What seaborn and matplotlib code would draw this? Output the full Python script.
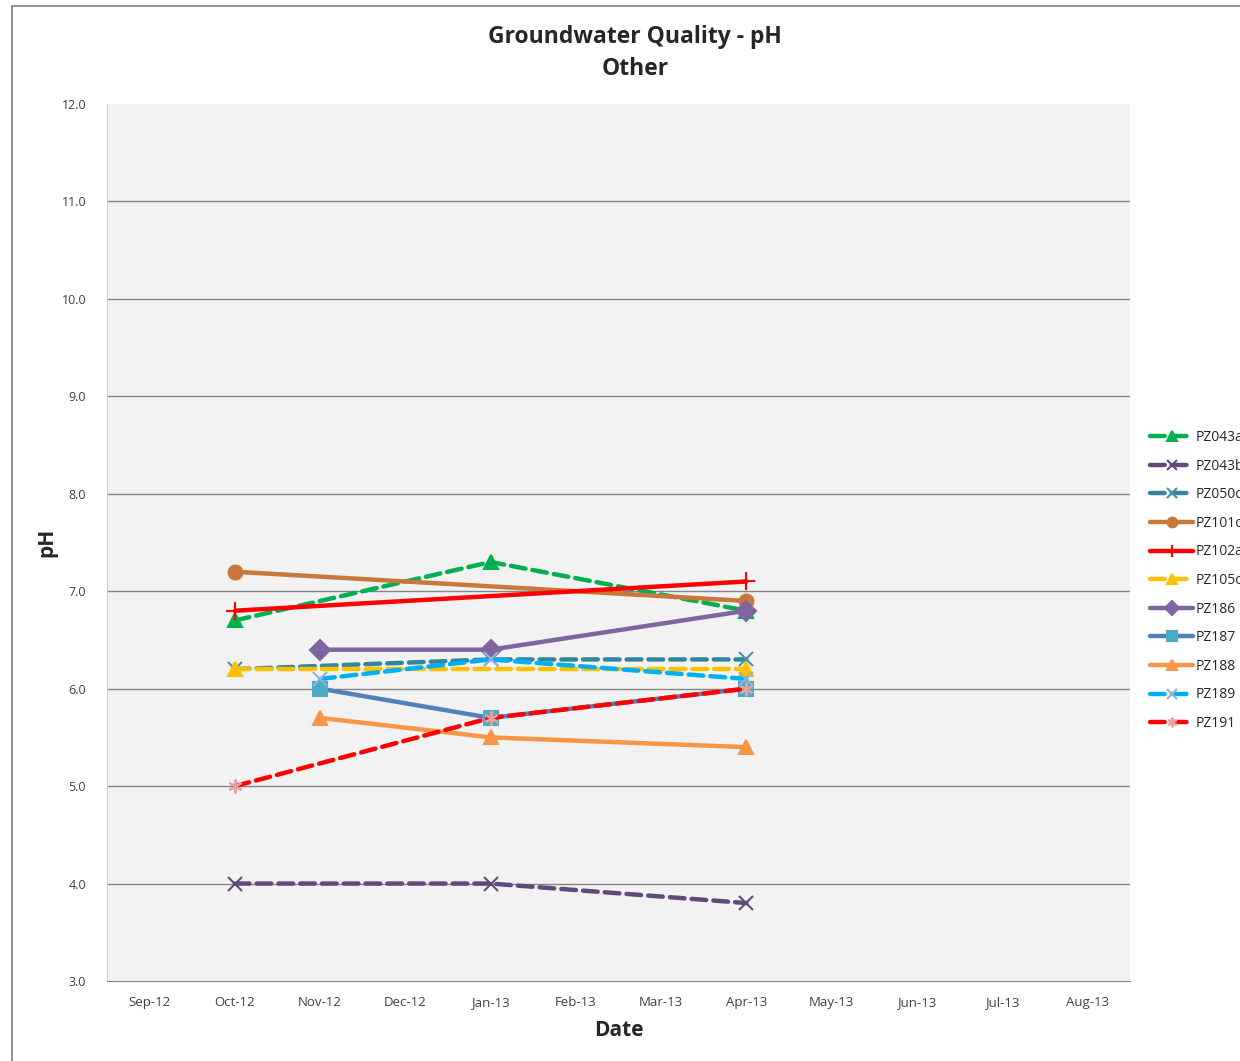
import matplotlib
matplotlib.use('Agg')
import matplotlib.pyplot as plt
import seaborn as sns
import pandas as pd
from matplotlib.patches import Rectangle

# categorias do eixo x (meses)
months = ['Sep-12', 'Oct-12', 'Nov-12', 'Dec-12', 'Jan-13', 'Feb-13',
          'Mar-13', 'Apr-13', 'May-13', 'Jun-13', 'Jul-13', 'Aug-13']
y_ticks = [3.0, 4.0, 5.0, 6.0, 7.0, 8.0, 9.0, 10.0, 11.0, 12.0]

# leituras de pH por piezometro
pz043a_dates = ['Oct-12', 'Jan-13', 'Apr-13']
pz043a_ph = [6.7, 7.3, 6.8]
pz043b_dates = ['Oct-12', 'Jan-13', 'Apr-13']
pz043b_ph = [4.0, 4.0, 3.8]
pz050c_dates = ['Oct-12', 'Jan-13', 'Apr-13']
pz050c_ph = [6.2, 6.3, 6.3]
pz101c_dates = ['Oct-12', 'Apr-13']
pz101c_ph = [7.2, 6.9]
pz102a_dates = ['Oct-12', 'Apr-13']
pz102a_ph = [6.8, 7.1]
pz105c_dates = ['Oct-12', 'Apr-13']
pz105c_ph = [6.2, 6.2]
pz186_dates = ['Nov-12', 'Jan-13', 'Apr-13']
pz186_ph = [6.4, 6.4, 6.8]
pz187_dates = ['Nov-12', 'Jan-13', 'Apr-13']
pz187_ph = [6.0, 5.7, 6.0]
pz188_dates = ['Nov-12', 'Jan-13', 'Apr-13']
pz188_ph = [5.7, 5.5, 5.4]
pz189_dates = ['Nov-12', 'Jan-13', 'Apr-13']
pz189_ph = [6.1, 6.3, 6.1]
pz191_dates = ['Oct-12', 'Jan-13', 'Apr-13']
pz191_ph = [5.0, 5.7, 6.0]

# (nome, datas, valores, cor da linha, tracejado, marcador, cor do marcador)
series = [
    ('PZ043a', pz043a_dates, pz043a_ph, '#00b050', True, '^', '#00b050'),
    ('PZ043b', pz043b_dates, pz043b_ph, '#604a7b', True, 'x', '#604a7b'),
    ('PZ050c', pz050c_dates, pz050c_ph, '#31859c', True, 'x', '#4a8fa8'),
    ('PZ101c', pz101c_dates, pz101c_ph, '#c8783a', False, 'o', '#c8783a'),
    ('PZ102a', pz102a_dates, pz102a_ph, '#ff0000', False, '+', '#ff0000'),
    ('PZ105c', pz105c_dates, pz105c_ph, '#ffc000', True, '^', '#ffc000'),
    ('PZ186', pz186_dates, pz186_ph, '#8064a2', False, 'D', '#8064a2'),
    ('PZ187', pz187_dates, pz187_ph, '#4f81bd', False, 's', '#4bacc6'),
    ('PZ188', pz188_dates, pz188_ph, '#f79646', False, '^', '#f79646'),
    ('PZ189', pz189_dates, pz189_ph, '#00b0f0', True, 'x', '#8fb4d8'),
    ('PZ191', pz191_dates, pz191_ph, '#ff0000', True, (6, 2, 0), '#e8a0a0'),
]

sns.set_style('white')
plt.rcParams['font.family'] = ['Open Sans', 'DejaVu Sans']

fig = plt.figure(figsize=(12.4, 10.61), dpi=100)
ax = fig.add_axes([107/1240, 1 - 981/1061, 1023/1240, 877/1061])
ax.set_facecolor('#f2f2f2')
ax.patch.set_edgecolor('none')

# moldura externa do grafico (cortada a direita e embaixo)
fig.patches.append(Rectangle((12/1240, -0.05), 1.1, 1 - 6/1061 + 0.05,
                             transform=fig.transFigure, fill=False,
                             edgecolor='#7f7f7f', linewidth=1.2, zorder=0))

# linhas de grade horizontais (sem a do topo, como no original)
for yv in y_ticks[1:-1]:
    ax.axhline(yv, color='#868686', linewidth=1, zorder=0.5)

for nome, datas, valores, cor, tracejado, marcador, cor_m in series:
    df = pd.DataFrame({'x': [months.index(d) for d in datas], 'pH': valores})
    sns.lineplot(data=df, x='x', y='pH', ax=ax, color=cor, linewidth=3.2,
                 linestyle=(0, (3.3, 1.6)) if tracejado else '-',
                 dash_capstyle='round', solid_capstyle='round',
                 marker=marcador, markersize=10 if marcador != '+' else 13,
                 markerfacecolor=cor_m, markeredgecolor=cor_m,
                 markeredgewidth=1.5, label=nome)

ax.set_xlim(-0.5, len(months) - 0.5)
ax.set_ylim(3, 12)
ax.set_yticks(y_ticks)
ax.set_yticklabels([f'{v:.1f}' for v in y_ticks], fontsize=9, color='#404040')
ax.set_xticks(range(len(months)))
ax.set_xticklabels(months, fontsize=9.5, color='#404040')
ax.set_xticks([i - 0.5 for i in range(len(months) + 1)], minor=True)
ax.tick_params(axis='x', which='major', length=0, pad=11)
ax.tick_params(axis='x', which='minor', length=5, color='#868686', width=1)
ax.tick_params(axis='y', length=5, color='#868686', width=1, pad=10)
ax.grid(False)
for lado in ['top', 'right']:
    ax.spines[lado].set_visible(False)
ax.spines['left'].set_color('#d0d0d0')
ax.spines['bottom'].set_color('#868686')

ax.set_xlabel('Date', fontsize=15, fontweight='bold', labelpad=8)
ax.set_ylabel('pH', fontsize=15, fontweight='bold', labelpad=3)
fig.text(635/1240, 1 - 53/1061, 'Groundwater Quality - pH\nOther', ha='center',
         va='center', fontsize=16.5, fontweight='bold', linespacing=1.45)

ax.legend(loc='upper left', bbox_to_anchor=(1150/1240, 1 - 430/1061),
          bbox_transform=fig.transFigure, frameon=False, fontsize=10,
          handlelength=3.1, handletextpad=0.15, labelspacing=0.98,
          borderpad=0, borderaxespad=0, markerscale=0.7)

plt.savefig('out.png', dpi=100)
